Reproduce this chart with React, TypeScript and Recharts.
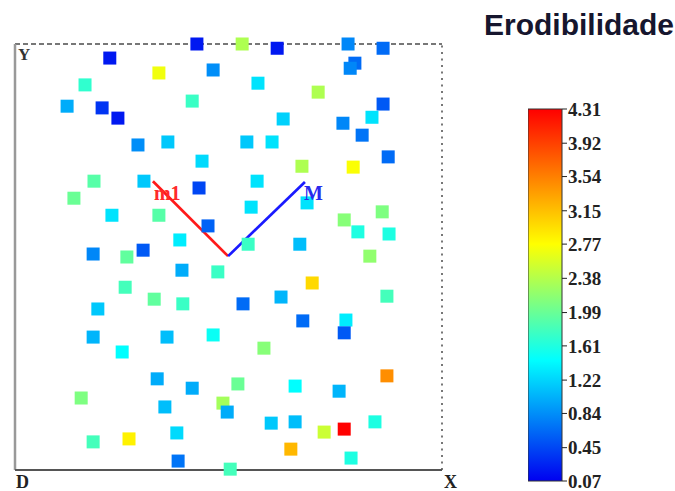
import React from "react";
import {
  ScatterChart,
  Scatter,
  XAxis,
  YAxis,
  ReferenceLine,
  ReferenceDot,
  BarChart,
  Bar,
} from "recharts";

// sample positions (0-100 in both directions) and erodibility value of each square
const pointX = [
  42.6, 22.2, 33.7, 46.4, 16.4, 41.5, 12.2, 20.4, 24.1, 28.8, 35.8, 43.8, 18.5, 30.2, 43.1, 13.8,
  22.7, 33.7, 45.2, 38.6, 18.3, 26.2, 30.0, 53.2, 61.4, 78.0, 86.2, 79.6, 78.5, 56.9, 71.0, 86.2,
  62.8, 83.6, 76.8, 81.3, 54.3, 60.2, 87.4, 67.2, 79.2, 56.7, 55.3, 68.4, 86.0, 77.1, 80.3, 87.6,
  54.6, 66.7, 83.1, 39.1, 47.5, 25.8, 32.6, 39.3, 19.4, 18.3, 35.6, 46.4, 25.1, 33.3, 41.5, 15.5,
  35.1, 48.7, 49.7, 18.3, 26.7, 37.9, 38.2, 50.4, 69.6, 87.1, 62.3, 53.4, 67.4, 77.5, 77.1, 58.3,
  87.1, 52.2, 65.6, 75.9, 60.0, 65.6, 72.4, 77.1, 84.3, 64.6, 78.7,
];
const pointY = [
  100, 96.7, 93.2, 93.9, 90.4, 86.6, 85.4, 85.0, 82.6, 76.3, 77.0, 72.5, 67.8, 67.8, 66.2, 63.8,
  59.8, 59.8, 57.3, 54.0, 50.7, 50.0, 51.6, 100, 99.0, 100, 99.0, 95.5, 94.3, 90.8, 88.7, 85.9,
  82.4, 82.8, 81.4, 78.6, 77.0, 77.0, 73.5, 71.3, 71.1, 67.8, 61.7, 62.7, 60.6, 58.7, 55.9, 55.4,
  53.0, 53.0, 50.2, 46.9, 46.5, 42.9, 40.1, 39.0, 37.8, 31.2, 31.2, 31.7, 27.7, 21.4, 19.2, 16.9,
  14.8, 15.7, 13.6, 6.6, 7.3, 8.7, 2.1, 0.2, 43.9, 40.8, 40.6, 39.0, 35.0, 35.2, 32.2, 28.6,
  22.1, 20.2, 19.7, 18.5, 11.0, 11.3, 8.9, 9.6, 11.3, 4.9, 2.8,
];
const erodibility = [
  0.2, 0.2, 2.7, 0.84, 1.7, 1.75, 1.0, 0.35, 0.2, 0.84, 1.15, 1.25, 1.9, 1.15, 0.45, 2.0,
  1.3, 1.9, 0.6, 1.35, 0.8, 1.95, 0.55, 2.35, 0.2, 0.8, 0.65, 0.65, 0.8, 1.3, 2.35, 0.55,
  1.2, 1.3, 0.8, 0.7, 1.15, 1.3, 0.65, 2.35, 2.75, 1.3, 1.3, 1.3, 2.1, 2.15, 1.6, 1.6,
  1.75, 1.1, 2.2, 1.0, 1.75, 1.8, 1.95, 1.75, 1.15, 1.05, 1.1, 1.5, 1.45, 1.0, 1.0, 2.1,
  1.1, 2.3, 1.0, 1.8, 2.85, 1.25, 0.7, 1.8, 3.0, 1.8, 1.05, 0.65, 0.65, 1.35, 0.55, 2.15,
  3.45, 2.0, 1.45, 1.05, 1.15, 1.1, 2.5, 4.31, 1.6, 3.2, 1.6,
];

// m1 -> vertex -> M
const pathX = [32.3, 49.9, 67.9];
const pathY = [67.8, 50.2, 67.6];

const scaleTicks = [4.31, 3.92, 3.54, 3.15, 2.77, 2.38, 1.99, 1.61, 1.22, 0.84, 0.45, 0.07];
const scaleMin = 0.07;
const scaleMax = 4.31;

const colorStops: [number, number[]][] = [
  [0.07, [0, 0, 240]],
  [1.45, [0, 255, 255]],
  [2.77, [255, 255, 0]],
  [4.31, [255, 0, 0]],
];

function colorFor(v: number): string {
  for (let i = 0; i < colorStops.length - 1; i++) {
    const [v0, c0] = colorStops[i];
    const [v1, c1] = colorStops[i + 1];
    if (v <= v1 || i === colorStops.length - 2) {
      const t = Math.max(0, Math.min(1, (v - v0) / (v1 - v0)));
      const c = c0.map((ch, k) => Math.round(ch + (c1[k] - ch) * t));
      return `rgb(${c[0]},${c[1]},${c[2]})`;
    }
  }
  return "#000";
}

const points = pointX.map((x, i) => ({ x, y: pointY[i], v: erodibility[i] }));
const barData = [{ name: "escala", range: [scaleMin, scaleMax] }];

function Square(props: any) {
  const { cx, cy, payload } = props;
  if (cx == null || cy == null) return null;
  return <rect x={cx - 6.5} y={cy - 6.5} width={13} height={13} fill={colorFor(payload.v)} />;
}

const labelFont = '"Liberation Serif", "Times New Roman", serif';

export default function App() {
  return (
    <div
      style={{
        position: "absolute",
        left: 0,
        top: 0,
        width: 675,
        height: 491,
        background: "#fff",
        fontFamily: labelFont,
        overflow: "hidden",
      }}
    >
      <div style={{ position: "absolute", left: 0, top: 0 }}>
        <ScatterChart width={460} height={491} margin={{ top: 44, right: 18, bottom: 21, left: 15 }}>
          <XAxis type="number" dataKey="x" domain={[0, 100]} height={0} tick={false} tickLine={false} axisLine={false} />
          <YAxis type="number" dataKey="y" domain={[0, 100]} width={0} tick={false} tickLine={false} axisLine={false} />
          <ReferenceLine y={100} stroke="#777" strokeWidth={2} strokeDasharray="5 3" />
          <ReferenceLine x={100} stroke="#777" strokeWidth={2} strokeDasharray="2 4.5" />
          <ReferenceLine x={0} stroke="#999" strokeWidth={2.5} />
          <ReferenceLine y={0} stroke="#555" strokeWidth={2} />
          <Scatter data={points} shape={<Square />} isAnimationActive={false} />
          <ReferenceLine
            segment={[
              { x: pathX[0], y: pathY[0] },
              { x: pathX[1], y: pathY[1] },
            ]}
            stroke="#ff1a1a"
            strokeWidth={2.7}
          />
          <ReferenceLine
            segment={[
              { x: pathX[1], y: pathY[1] },
              { x: pathX[2], y: pathY[2] },
            ]}
            stroke="#1a1aff"
            strokeWidth={2.7}
          />
          <ReferenceDot
            x={pathX[0]}
            y={pathY[0]}
            r={0}
            stroke="none"
            fill="none"
            label={(p: any) => (
              <text x={p.viewBox.x + 1} y={p.viewBox.y + 19} fill="#ff2a2a" fontSize={20} fontWeight="bold" fontFamily={labelFont}>
                m1
              </text>
            )}
          />
          <ReferenceDot
            x={pathX[2]}
            y={pathY[2]}
            r={0}
            stroke="none"
            fill="none"
            label={(p: any) => (
              <text x={p.viewBox.x - 1} y={p.viewBox.y + 18} fill="#2a2aee" fontSize={20} fontWeight="bold" fontFamily={labelFont}>
                M
              </text>
            )}
          />
        </ScatterChart>
      </div>

      <div style={{ position: "absolute", left: 18, top: 46, fontSize: 17, fontWeight: "bold", color: "#333", lineHeight: "17px" }}>
        Y
      </div>
      <div style={{ position: "absolute", left: 16, top: 473, fontSize: 18, fontWeight: "bold", color: "#222", lineHeight: "18px" }}>
        D
      </div>
      <div style={{ position: "absolute", left: 444, top: 473, fontSize: 18, fontWeight: "bold", color: "#222", lineHeight: "18px" }}>
        X
      </div>

      <div
        style={{
          position: "absolute",
          left: 484,
          top: 10,
          fontFamily: '"Liberation Sans", Arial, sans-serif',
          fontWeight: "bold",
          fontSize: 30,
          lineHeight: "30px",
          color: "#16162e",
          whiteSpace: "nowrap",
        }}
      >
        Erodibilidade
      </div>

      <div style={{ position: "absolute", left: 528, top: 0 }}>
        <BarChart width={147} height={491} data={barData} margin={{ top: 109, right: 0, bottom: 10, left: 0 }} barCategoryGap={0}>
          <defs>
            <linearGradient id="jetScale" x1="0" y1="0" x2="0" y2="1">
              {colorStops
                .slice()
                .reverse()
                .map(([v, c]) => (
                  <stop
                    key={v}
                    offset={(scaleMax - v) / (scaleMax - scaleMin)}
                    stopColor={`rgb(${c[0]},${c[1]},${c[2]})`}
                  />
                ))}
            </linearGradient>
          </defs>
          <XAxis dataKey="name" hide />
          <YAxis
            orientation="right"
            type="number"
            domain={[scaleMin, scaleMax]}
            ticks={scaleTicks}
            interval={0}
            width={113}
            axisLine={false}
            tickLine={{ stroke: "#222" }}
            tickSize={5}
            tickMargin={1}
            tick={{ fill: "#222", fontSize: 19, fontWeight: "bold", fontFamily: labelFont }}
            tickFormatter={(v: number) => v.toFixed(2)}
          />
          <Bar dataKey="range" fill="url(#jetScale)" stroke="#333" strokeWidth={1} isAnimationActive={false} />
        </BarChart>
      </div>
    </div>
  );
}
